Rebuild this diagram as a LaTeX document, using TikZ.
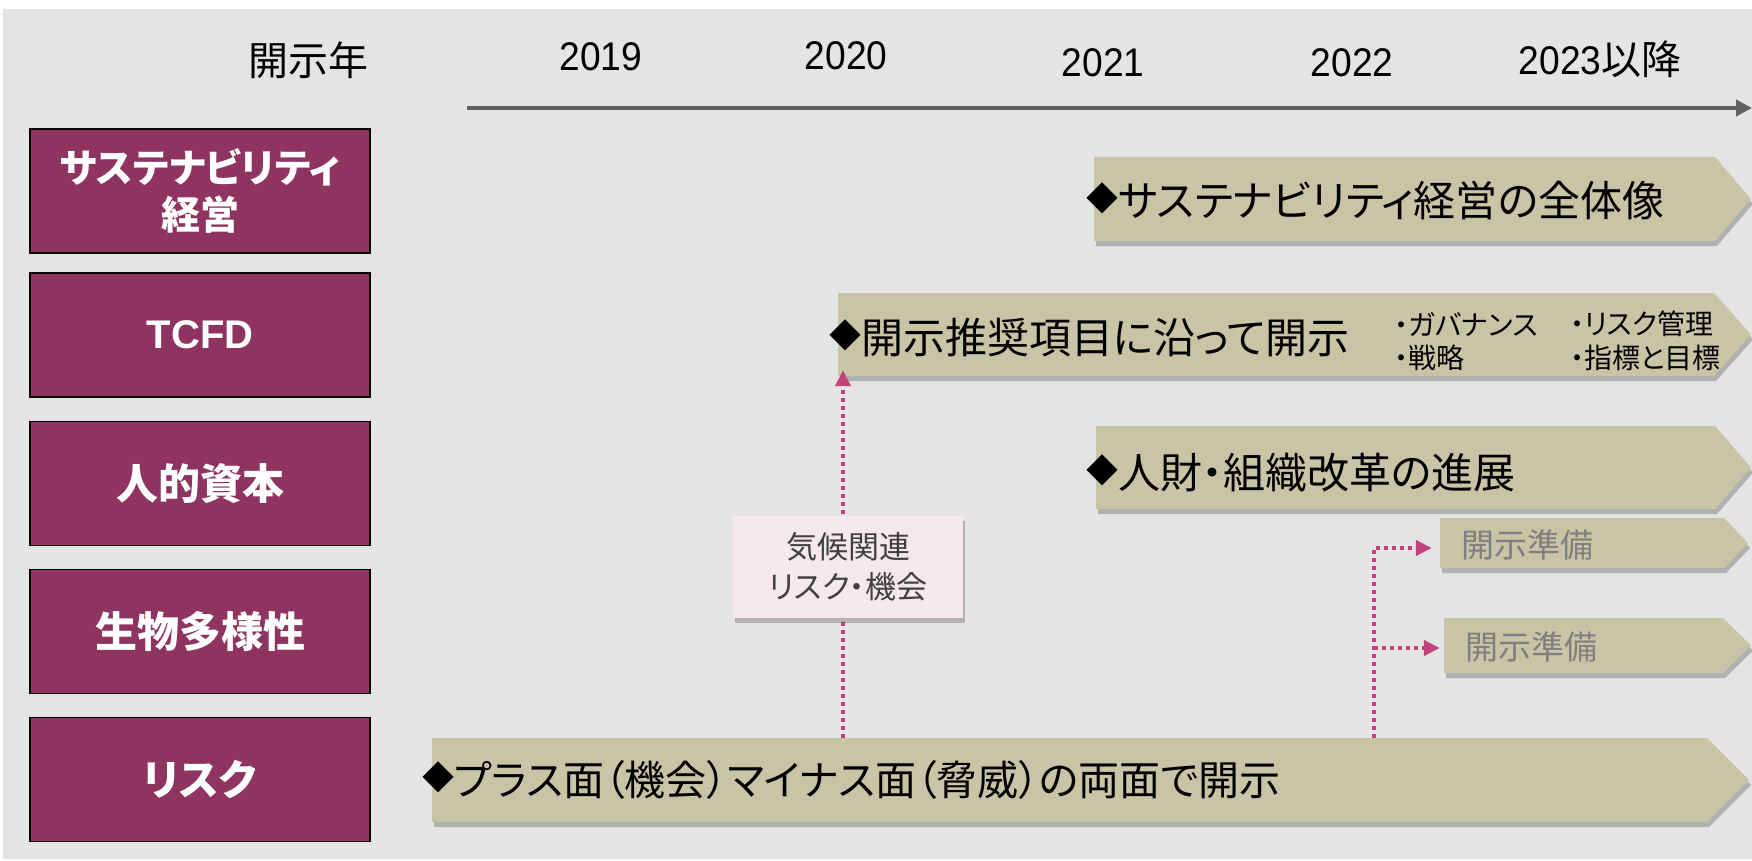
\documentclass[tikz,border=0pt]{standalone}
\usepackage{fontspec}
\usepackage{graphicx}
\usetikzlibrary{arrows.meta,calc,fit,shadows}
\newfontfamily\jp[RawFeature=+palt]{Noto Sans CJK JP}
\newfontfamily\arial{Liberation Sans}
\definecolor{bgc}{HTML}{E4E4E4}
\definecolor{maroonc}{HTML}{8F3460}
\definecolor{tanc}{HTML}{C9C4A6}
\definecolor{pinkline}{HTML}{C4427C}
\definecolor{pinkfill}{HTML}{F5E7EE}
\definecolor{axisc}{HTML}{606060}
\definecolor{graytext}{HTML}{7F7F7F}
\definecolor{darktext}{HTML}{404040}
\newcommand\dia{{\raisebox{6pt}{\fontsize{32}{32}\selectfont ◆}}}
\tikzset{
  bshadow/.style={drop shadow={shadow xshift=2pt, shadow yshift=-5pt, fill=black, opacity=0.22}},
  lbox/.style={draw=black, line width=1.5pt, fill=maroonc, minimum width=340pt, minimum height=124pt, inner sep=0pt, text=white, align=center, font=\jp\bfseries\fontsize{42}{47}\selectfont},
  yr/.style={inner sep=0pt, font=\arial\fontsize{40}{44}\selectfont},
  hd/.style={inner sep=0pt, font=\jp\fontsize{40}{44}\selectfont},
  btext/.style={inner sep=0pt, anchor=west, font=\jp\fontsize{42}{46}\selectfont},
  stext/.style={inner sep=0pt, anchor=west, font=\jp\fontsize{28}{30}\selectfont},
  gtext/.style={inner sep=0pt, anchor=west, text=graytext, font=\jp\fontsize{33}{36}\selectfont},
  pbox/.style={fill=pinkfill, minimum width=230pt, minimum height=102pt, inner sep=0pt, align=center, text=darktext, font=\jp\fontsize{31}{40}\selectfont, bshadow},
  conn/.style={draw=pinkline, line width=4pt, dash pattern=on 4pt off 4pt, -{Triangle[length=16pt,width=15pt]}},
  axisline/.style={draw=axisc, line width=4.5pt, -{Triangle[length=16pt,width=16pt]}},
}
\newcommand\bannerdraw[6]{%
  \fill[tanc, bshadow] (#2,#3) -- ({#4-#6},#3) -- (#4,{(#3+#5)/2}) -- ({#4-#6},#5) -- (#2,#5) -- cycle;
  \node[inner sep=0pt, fit={(#2,#3) ({#4-#6},#5)}] (#1) {};
}
\begin{document}
\begin{tikzpicture}[x=1pt,y=-1pt]
\useasboundingbox (0,0) rectangle (1752,861);
\fill[white] (0,0) rectangle (1752,861);
\fill[bgc] (3,9) rectangle (1752,859);

% header
\node[hd, anchor=east] (hdr) at (369,60) {開示年};
\node[yr] (y19) at (601,57) {\scalebox{0.93}[1]{2019}};
\node[yr] (y20) at (846,56) {\scalebox{0.93}[1]{2020}};
\node[yr] (y21) at (1103,63) {\scalebox{0.93}[1]{2021}};
\node[yr] (y22) at (1352,63) {\scalebox{0.93}[1]{2022}};
\node[yr] (y23) at (1600,59) {\scalebox{0.93}[1]{2023}{\jp 以降}};
\coordinate (ta) at (467,108);
\coordinate (tb) at (1752,108);
\draw[axisline] (ta) -- (tb);

% left category boxes
\node[lbox, font=\jp\bfseries\fontsize{39}{47}\selectfont] (L1) at (200,191) {サステナビリティ\\経営};
\node[lbox] (L2) at (200,335) {\arial\bfseries\fontsize{40}{42}\selectfont TCFD};
\node[lbox] (L3) at (200,483.5) {人的資本};
\node[lbox] (L4) at (200,631.5) {生物多様性};
\node[lbox] (L5) at (200,779.5) {リスク};

% banners
\bannerdraw{B1}{1094}{157}{1751}{241}{36}
\bannerdraw{B2}{838}{293}{1751}{376}{37}
\bannerdraw{B3}{1096}{426}{1751}{509}{36}
\bannerdraw{B4}{1440}{518}{1748}{568}{24}
\bannerdraw{B5}{1444}{618}{1751}{673}{28}
\bannerdraw{B6}{432}{738}{1749}{822}{42}

\node[btext] (t1) at (1086,201) {\dia サステナビリティ経営の全体像};
\node[btext] (t2) at (829,338) {\dia 開示推奨項目に沿って開示};
\node[stext] (s1) at (1394,324) {・ガバナンス};
\node[stext] (s2) at (1570,324) {・リスク管理};
\node[stext] (s3) at (1394,358) {・戦略};
\node[stext] (s4) at (1570,358) {・指標と目標};
\node[btext] (t3) at (1086,473) {\dia 人財・組織改革の進展};
\node[gtext] (g1) at (1461,545) {開示準備};
\node[gtext] (g2) at (1465,647) {開示準備};
\node[btext, font=\jp\fontsize{41}{46}\selectfont] (t6) at (422,780) {\dia プラス面（機会）マイナス面（脅威）の両面で開示};

% connectors
\coordinate (v1) at (843,738);
\draw[conn, shorten >=-6pt] (v1) -- (v1 |- B2.south);
\coordinate (v2) at (1374,738);
\coordinate (j1) at (1374,548);
\coordinate (j2) at (1374,648);
\draw[conn, shorten >=8pt] (v2) -- (j1) -- (j1 -| B4.west);
\draw[conn, shorten >=4pt] (j2) -- (j2 -| B5.west);

\node[pbox] (pk) at (848,567) {気候関連\\リスク・機会};
\end{tikzpicture}
\end{document}
